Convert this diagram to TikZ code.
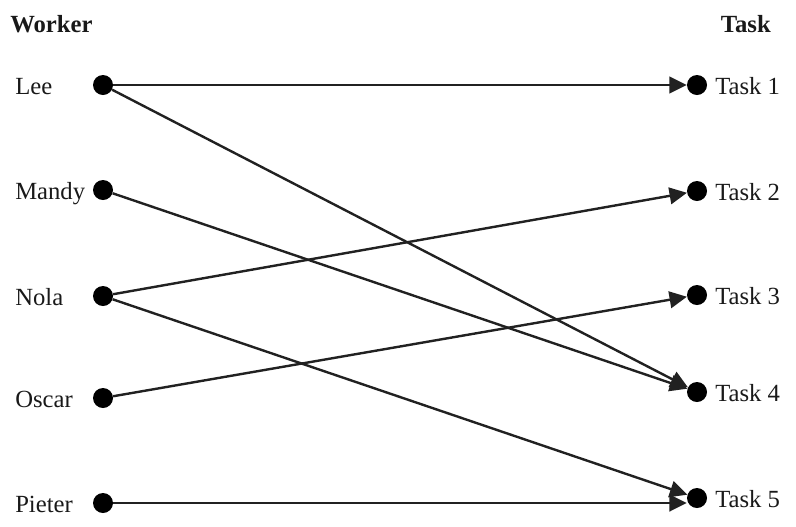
\documentclass[tikz,border=0pt]{standalone}
\usepackage{fontspec}
\setmainfont{Liberation Serif}
\usetikzlibrary{arrows.meta}

\tikzstyle{dot}=[draw=none, fill=black, circle, inner sep=0pt, minimum size=15pt]
\tikzstyle{tag}=[inner sep=0pt, anchor=base west, text=black!90, font=\fontsize{18.5}{22}\selectfont]
\tikzstyle{header}=[inner sep=0pt, text=black!90, font=\fontsize{18.5}{22}\selectfont\bfseries]
\tikzstyle{assign}=[line width=1.8pt, draw=black!87, -{Triangle[length=13pt,width=12.5pt]}]

\begin{document}
\begin{tikzpicture}[x=0.75pt, y=-0.75pt]
\useasboundingbox (0,0) rectangle (796,526);

\node[header, anchor=base west] (whead) at (10,32) {Worker};
\node[header, anchor=base east] (thead) at (771,32) {Task};

% workers on the left
\foreach \who/\y [count=\i] in {Lee/85, Mandy/190, Nola/296, Oscar/398, Pieter/503}{
  \node[dot] (w\i) at (103,\y) {};
  \node[tag] (wl\i) at (15,\y+9) {\who};
}

% tasks on the right
\foreach \y [count=\i] in {85, 191, 295, 392, 498}{
  \node[dot] (t\i) at (697,\y) {};
  \node[tag] (tl\i) at (715,\y+9) {Task \i};
}

\foreach \a/\b in {1/1, 1/4, 2/4, 3/2, 3/5, 4/3}{
  \draw[assign] (w\a) -- (t\b);
}
\draw[assign] (w5) -- (t5.west |- w5);

\end{tikzpicture}
\end{document}
